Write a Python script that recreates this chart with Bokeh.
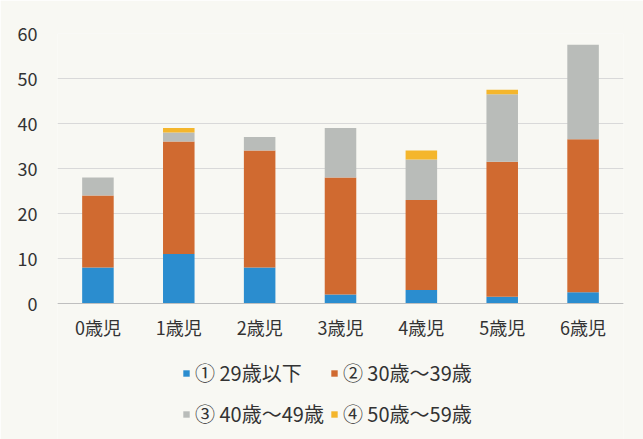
from bokeh.plotting import figure
from bokeh.models import Range1d, FactorRange, Legend, LegendItem, ColumnDataSource
from bokeh.embed import file_html
from bokeh.resources import INLINE

categories = ["0歳児", "1歳児", "2歳児", "3歳児", "4歳児", "5歳児", "6歳児"]
series_names = ["① 29歳以下", "② 30歳～39歳", "③ 40歳～49歳", "④ 50歳～59歳"]
under29 = [8, 11, 8, 2, 3, 1.5, 2.5]
age30s = [16, 25, 26, 26, 20, 30, 34]
age40s = [4, 2, 3, 11, 9, 15, 21]
age50s = [0, 1, 0, 0, 2, 1, 0]
y_ticks = [0, 10, 20, 30, 40, 50, 60]

colors = ["#2b8dcf", "#d06a30", "#b9bcb9", "#f4b62c"]
keys = ["s0", "s1", "s2", "s3"]
FONT = "Noto Sans CJK JP"
BG = "#f8f8f3"

W, H = 643, 439
TOP, ZERO_PX = 33, 303          # pixel rows of the 60 and 0 gridlines
px_per_unit = (ZERO_PX - TOP) / 60.0
y_min = -(H - ZERO_PX) / px_per_unit

source = ColumnDataSource(data=dict(cat=categories, s0=under29, s1=age30s, s2=age40s, s3=age50s))

p = figure(width=W, height=H, x_range=FactorRange(*categories), y_range=Range1d(y_min, 60),
           output_backend="svg", toolbar_location=None,
           min_border_left=57, min_border_right=20, min_border_top=TOP, min_border_bottom=0)
p.background_fill_color = BG
p.border_fill_color = BG
p.outline_line_color = None

renderers = p.vbar_stack(keys, x="cat", width=0.39, color=colors, source=source, line_color=None)

p.xgrid.grid_line_color = None
p.ygrid.grid_line_color = "#d9d9d9"
p.yaxis.ticker = y_ticks
p.yaxis.axis_line_color = None
p.yaxis.major_tick_line_color = None
p.yaxis.minor_tick_line_color = None
p.yaxis.major_label_text_font = FONT
p.yaxis.major_label_text_font_size = "18px"
p.yaxis.major_label_text_color = "#333333"
p.yaxis.major_label_standoff = 14

p.xaxis.fixed_location = 0
p.xaxis.axis_line_color = "#bfbfbf"
p.xaxis.major_tick_line_color = None
p.xaxis.minor_tick_line_color = None
p.xaxis.major_label_text_font = FONT
p.xaxis.major_label_text_font_size = "18px"
p.xaxis.major_label_text_color = "#333333"
p.xaxis.major_label_standoff = 4

items = [LegendItem(label=n, renderers=[r]) for n, r in zip(series_names, renderers)]
legend = Legend(items=items, orientation="horizontal", ncols=2, location=(125, 8),
                label_text_font=FONT, label_text_font_size="20px", label_text_color="#333333",
                glyph_width=8, glyph_height=8, label_standoff=5, spacing=6, label_height=35,
                margin=0, padding=0, background_fill_alpha=0, border_line_color=None)
p.add_layout(legend, "center")

open("out.html", "w").write(file_html(p, INLINE))
